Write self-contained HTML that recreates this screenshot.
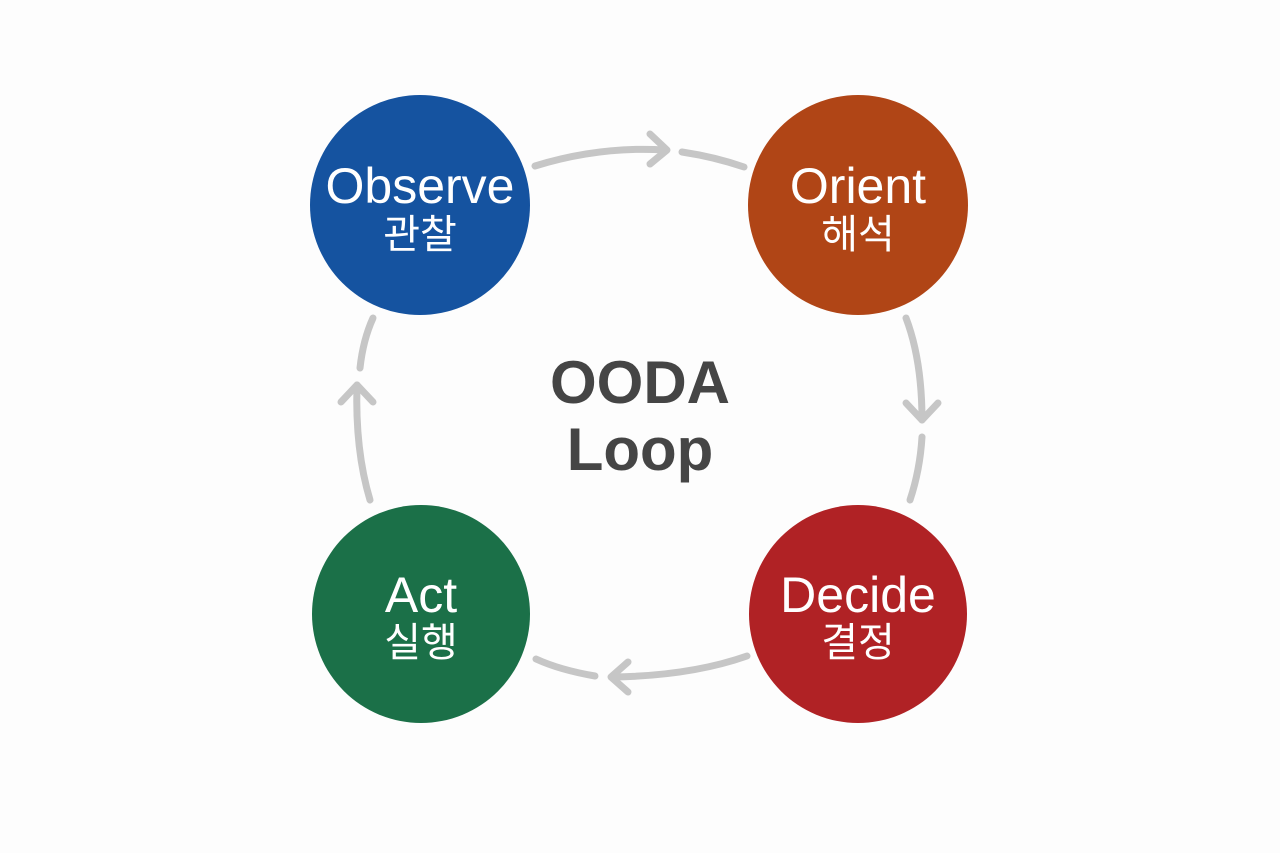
<!DOCTYPE html>
<html><head><meta charset="utf-8"><style>
html,body{margin:0;padding:0;background:#fdfdfd;}
svg{display:block}
</style></head><body>
<svg width="1280" height="853" viewBox="0 0 1280 853" xmlns="http://www.w3.org/2000/svg">
<rect width="1280" height="853" fill="#fdfdfd"/>
<g fill="none" stroke="#c6c6c6" stroke-width="7" stroke-linecap="round" stroke-linejoin="round">
<path d="M535 166 Q600 146 665 150"/>
<path d="M650 134 L667 150 L650 164"/>
<path d="M682 152 Q715 157 744 167"/>
<path d="M906 318 Q922 360 922 420"/>
<path d="M906 403 L922 420 L938 403"/>
<path d="M922 437 Q920 470 910 500"/>
<path d="M747 656 Q690 676 612 677"/>
<path d="M628 662 L611 677 L628 692"/>
<path d="M595 676 Q560 670 536 659"/>
<path d="M370 500 Q355 450 357 385"/>
<path d="M341 402 L357 385 L373 402"/>
<path d="M360 368 Q363 340 373 318"/>
</g>
<circle cx="420" cy="205" r="110" fill="#1553a0"/>
<circle cx="858" cy="205" r="110" fill="#b04516"/>
<circle cx="421" cy="614" r="109" fill="#1b7048"/>
<circle cx="858" cy="614" r="109" fill="#b02225"/>
<g fill="#fff" text-anchor="middle" font-family="'Liberation Sans','Noto Sans CJK KR',sans-serif">
<text x="420" y="203" font-size="50">Observe</text>
<text x="420" y="248" font-size="40">관찰</text>
<text x="858" y="203" font-size="50">Orient</text>
<text x="858" y="248" font-size="40">해석</text>
<text x="421" y="612" font-size="50">Act</text>
<text x="421" y="656" font-size="40">실행</text>
<text x="858" y="612" font-size="50">Decide</text>
<text x="858" y="656" font-size="40">결정</text>
</g>
<g fill="#454545" text-anchor="middle" font-family="'Liberation Sans',sans-serif" font-weight="bold" font-size="60">
<text x="640" y="403">OODA</text>
<text x="640" y="470">Loop</text>
</g>
</svg>
</body></html>
